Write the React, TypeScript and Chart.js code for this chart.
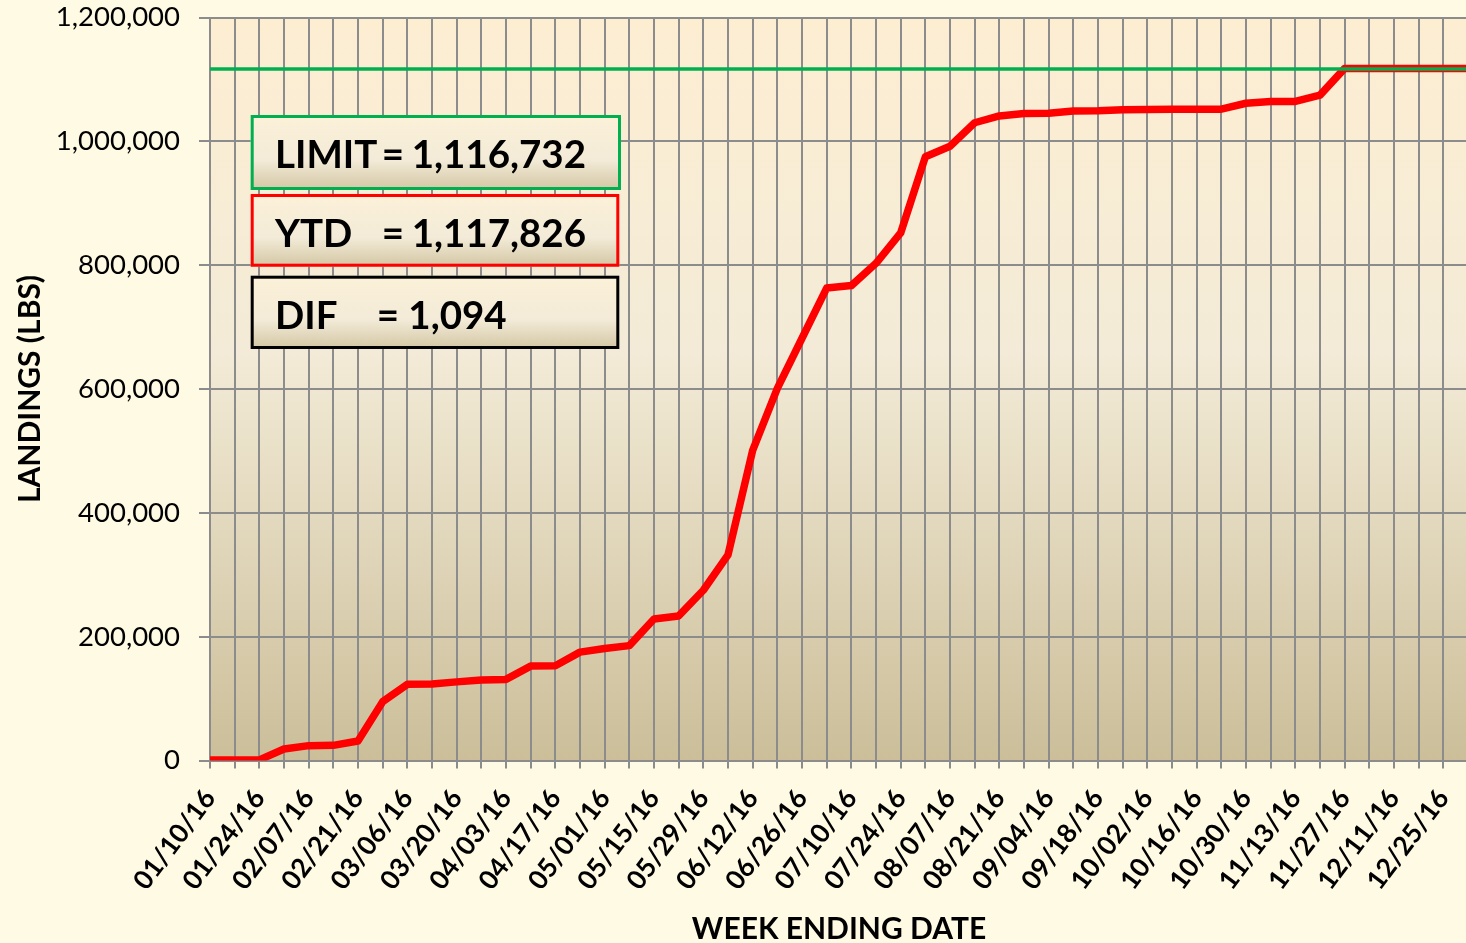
import React, { useEffect, useRef } from 'react';
import { Chart, registerables } from 'chart.js';

Chart.register(...registerables);

// ---------- DATA ----------
const WEEK_LABELS: string[] = [
  '01/10/16', '01/17/16', '01/24/16', '01/31/16', '02/07/16', '02/14/16', '02/21/16', '02/28/16',
  '03/06/16', '03/13/16', '03/20/16', '03/27/16', '04/03/16', '04/10/16', '04/17/16', '04/24/16',
  '05/01/16', '05/08/16', '05/15/16', '05/22/16', '05/29/16', '06/05/16', '06/12/16', '06/19/16',
  '06/26/16', '07/03/16', '07/10/16', '07/17/16', '07/24/16', '07/31/16', '08/07/16', '08/14/16',
  '08/21/16', '08/28/16', '09/04/16', '09/11/16', '09/18/16', '09/25/16', '10/02/16', '10/09/16',
  '10/16/16', '10/23/16', '10/30/16', '11/06/16', '11/13/16', '11/20/16', '11/27/16', '12/04/16',
  '12/11/16', '12/18/16', '12/25/16', '01/01/17',
];

const YTD_LANDINGS: number[] = [
  1000, 1000, 1000, 18500, 24000, 24500, 31500, 95000,
  123000, 123500, 127000, 130000, 131000, 152500, 153000, 175000,
  181000, 185500, 228500, 233500, 275000, 332000, 501000, 601000,
  682000, 763000, 767000, 803000, 852000, 975000, 992000, 1030000,
  1041000, 1045000, 1045500, 1049000, 1049500, 1051000, 1051500, 1052000,
  1052000, 1052000, 1061500, 1064300, 1064500, 1074600, 1117826, 1117826,
  1117826, 1117826, 1117826, 1117826,
];

const LIMIT = 1116732;
const YTD_TOTAL = 1117826;
const DIF = 1094;

const LIMIT_LINE: number[] = WEEK_LABELS.map(() => LIMIT);

const Y_MIN = 0;
const Y_MAX = 1200000;
const Y_STEP = 200000;

const BOX_LABELS = ['LIMIT', 'YTD', 'DIF'];
const BOX_VALUES = [LIMIT, YTD_TOTAL, DIF];

// ---------- STYLE ----------
const FONT = 'Lato';
const GRID = '#8C8C8C';
const BOX_STYLES = [
  { border: '#00B050', x: 250.7, y: 115, w: 370.3, h: 75, eqX: 381.7, numX: 411.7, base: 168.3 },
  { border: '#FF0000', x: 250.7, y: 194, w: 368.6, h: 72.7, eqX: 381.7, numX: 411.7, base: 246.7 },
  { border: '#000000', x: 250.7, y: 275.7, w: 368.6, h: 73.3, eqX: 376.7, numX: 408.3, base: 329.3 },
];

const plotBgPlugin = {
  id: 'plotBg',
  beforeDraw(chart: any) {
    const { ctx, chartArea: a } = chart;
    const g = ctx.createLinearGradient(0, a.top, 0, a.bottom);
    g.addColorStop(0, '#FDEED2');
    g.addColorStop(0.45, '#F3EBD7');
    g.addColorStop(1, '#CBBE99');
    ctx.save();
    ctx.fillStyle = g;
    ctx.fillRect(a.left, a.top, a.right - a.left, a.bottom - a.top);
    ctx.restore();
  },
};

const boxesPlugin = {
  id: 'infoBoxes',
  afterDraw(chart: any) {
    const { ctx } = chart;
    ctx.save();
    BOX_STYLES.forEach((b, i) => {
      const g = ctx.createLinearGradient(0, b.y, 0, b.y + b.h);
      g.addColorStop(0, '#FCF1D8');
      g.addColorStop(0.6, '#F3EBD8');
      g.addColorStop(1, '#D3C6A3');
      ctx.fillStyle = g;
      ctx.fillRect(b.x, b.y, b.w, b.h);
      ctx.lineWidth = 3;
      ctx.strokeStyle = b.border;
      ctx.strokeRect(b.x + 1.5, b.y + 1.5, b.w - 3, b.h - 3);
      ctx.fillStyle = '#000';
      ctx.font = `bold 38.5px ${FONT}`;
      ctx.textBaseline = 'alphabetic';
      ctx.textAlign = 'left';
      ctx.fillText(BOX_LABELS[i], 275, b.base);
      ctx.fillText('=', b.eqX, b.base);
      ctx.fillText(BOX_VALUES[i].toLocaleString('en-US'), b.numX, b.base);
    });
    ctx.restore();
  },
};

export default function App() {
  const ref = useRef<HTMLCanvasElement>(null);

  useEffect(() => {
    let chart: Chart | null = null;
    let cancelled = false;
    const make = () => {
      if (cancelled || !ref.current) return;
      chart = new Chart(ref.current, {
        type: 'line',
        data: {
          labels: WEEK_LABELS,
          datasets: [
            {
              label: 'LIMIT',
              data: LIMIT_LINE,
              borderColor: '#00B050',
              borderWidth: 3.5,
              pointRadius: 0,
              fill: false,
              order: 0,
            },
            {
              label: 'YTD',
              data: YTD_LANDINGS,
              borderColor: '#FF0000',
              borderWidth: 7.5,
              pointRadius: 0,
              fill: false,
              borderJoinStyle: 'round',
              order: 1,
            },
          ],
        },
        options: {
          responsive: false,
          animation: false,
          devicePixelRatio: 1,
          layout: { padding: { left: 0, top: 17.5, right: 12, bottom: 0 } },
          plugins: { legend: { display: false }, tooltip: { enabled: false } },
          scales: {
            x: {
              ticks: {
                autoSkip: false,
                minRotation: 53,
                maxRotation: 53,
                padding: 15,
                color: '#000',
                font: { family: FONT, size: 26.5, weight: 'bold' },
                callback: (_v: any, i: number) => (i % 2 === 0 ? WEEK_LABELS[i] : ''),
              },
              grid: { color: GRID, lineWidth: 2, tickLength: 8 },
              border: { color: GRID, width: 2 },
              title: {
                display: true,
                text: 'WEEK ENDING DATE',
                color: '#000',
                font: { family: FONT, size: 30, weight: 'bold' },
                padding: { top: 0, bottom: 3 },
              },
              afterFit: (s: any) => {
                s.height = 189.5;
                s.paddingLeft = 0;
                s.paddingRight = 0;
              },
            },
            y: {
              min: Y_MIN,
              max: Y_MAX,
              ticks: {
                stepSize: Y_STEP,
                padding: 19,
                color: '#000',
                font: { family: FONT, size: 27.5 },
                callback: (v: any) => Number(v).toLocaleString('en-US'),
              },
              grid: { color: GRID, lineWidth: 2, tickLength: 11 },
              border: { color: GRID, width: 2 },
              title: {
                display: true,
                text: 'LANDINGS (LBS)',
                color: '#000',
                font: { family: FONT, size: 30, weight: 'bold' },
                padding: { top: 12, bottom: 0 },
              },
              afterFit: (s: any) => {
                s.width = 210;
                s.paddingTop = 0;
                s.paddingBottom = 0;
              },
            },
          },
        },
        plugins: [plotBgPlugin, boxesPlugin],
      } as any);
    };
    Promise.all([
      document.fonts.load(`bold 38px ${FONT}`),
      document.fonts.load(`26px ${FONT}`),
    ]).then(make, make);
    return () => {
      cancelled = true;
      if (chart) chart.destroy();
    };
  }, []);

  return (
    <div
      style={{
        position: 'fixed',
        left: 0,
        top: 0,
        width: 1466,
        height: 943,
        overflow: 'hidden',
        background: '#FEFAE3',
      }}
    >
      <canvas ref={ref} width={1480} height={950} style={{ display: 'block', width: 1480, height: 950 }} />
    </div>
  );
}
